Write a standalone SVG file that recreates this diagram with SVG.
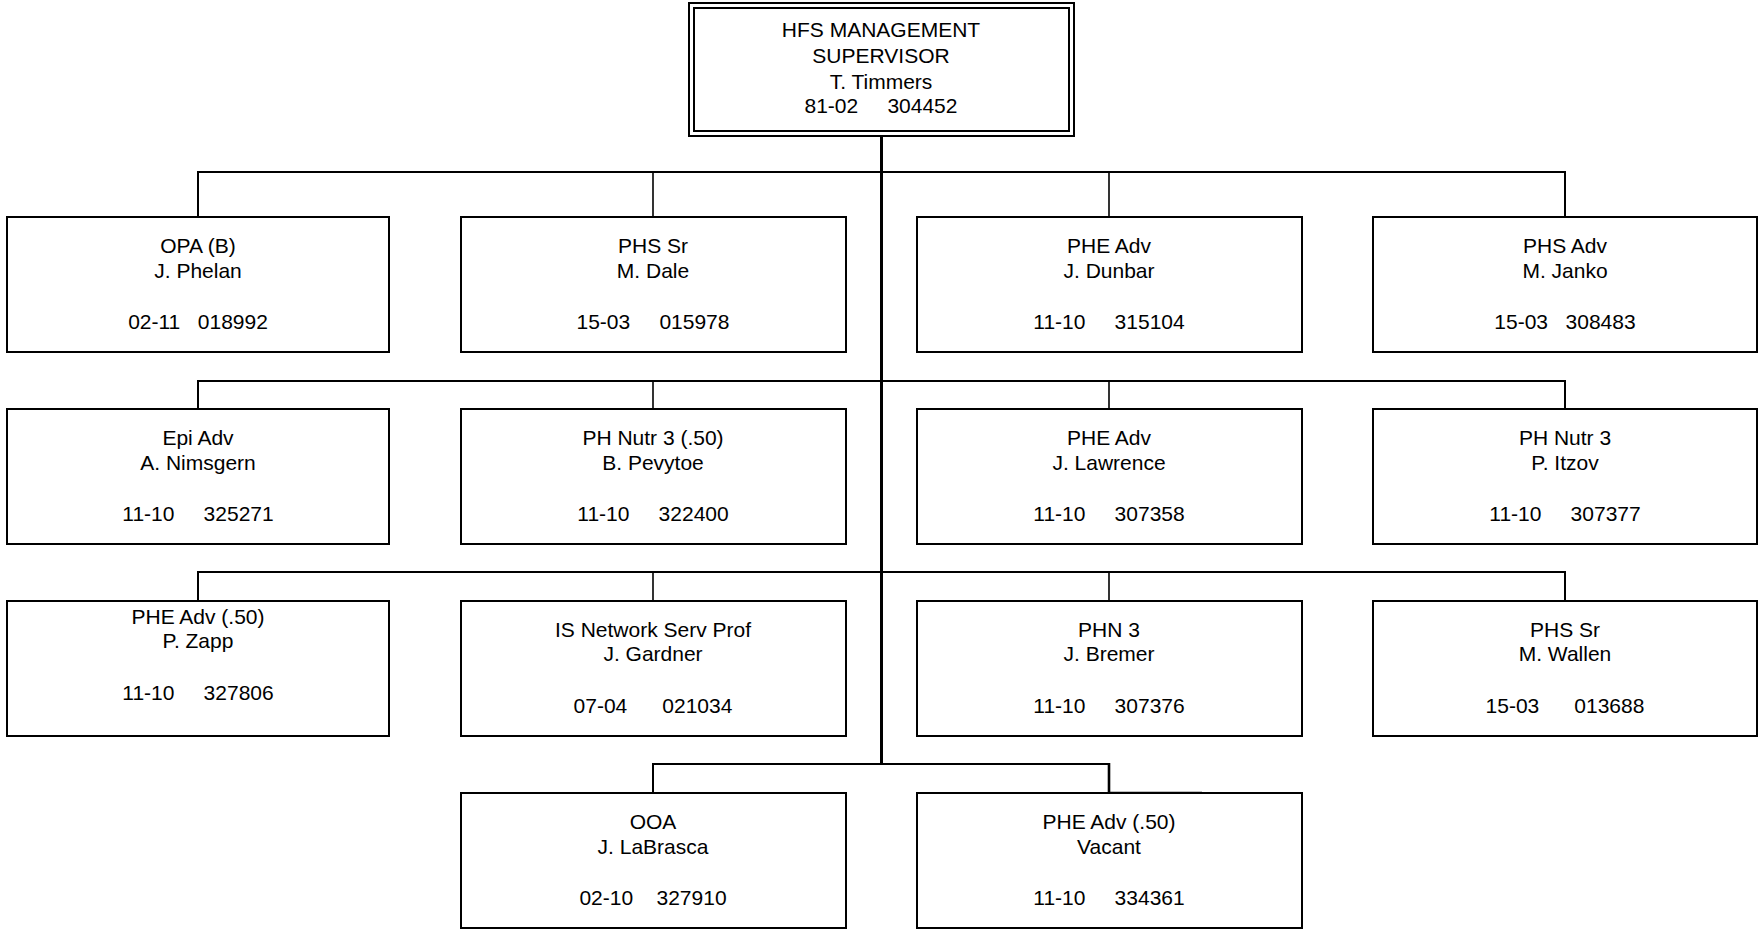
<svg xmlns="http://www.w3.org/2000/svg" width="1759" height="930" viewBox="0 0 1759 930">
<style>
.bg{fill:#fff}
.box{fill:#fff;stroke:#000;stroke-width:2}
.t{font-family:"Liberation Sans",Arial,sans-serif;font-size:21px;fill:#000;text-anchor:middle}
.bus{stroke:#000;stroke-width:2;fill:none}
.stub{stroke:#000;stroke-width:1.6;fill:none}
.trunk{stroke:#000;stroke-width:3;fill:none}
</style>
<rect class="bg" x="0" y="0" width="1759" height="930"/>
<g id="connectors">
<line class="trunk" x1="881.5" y1="136" x2="881.5" y2="765"/>
<polyline class="bus" points="198,217 198,172 1565,172 1565,217"/>
<line class="stub" x1="653" y1="172" x2="653" y2="217"/>
<line class="stub" x1="1109" y1="172" x2="1109" y2="217"/>
<polyline class="bus" points="198,409 198,381 1565,381 1565,409"/>
<line class="stub" x1="653" y1="381" x2="653" y2="409"/>
<line class="stub" x1="1109" y1="381" x2="1109" y2="409"/>
<polyline class="bus" points="198,601 198,572 1565,572 1565,601"/>
<line class="stub" x1="653" y1="572" x2="653" y2="601"/>
<line class="stub" x1="1109" y1="572" x2="1109" y2="601"/>
<polyline class="bus" points="653,793 653,764 1109,764"/>
<line class="trunk" x1="1109" y1="763" x2="1109" y2="793" style="stroke-width:2.6"/>
<line class="trunk" x1="1108" y1="793" x2="1202" y2="793" style="stroke-width:2.6"/>
</g>
<g id="n-supervisor">
<rect class="box" x="689" y="3" width="385" height="133"/>
<rect class="box" x="694" y="8" width="375" height="123"/>
<text class="t" x="881" y="37">HFS MANAGEMENT</text>
<text class="t" x="881" y="63">SUPERVISOR</text>
<text class="t" x="881" y="89">T. Timmers</text>
<text class="t" x="881" y="113" xml:space="preserve">81-02     304452</text>
</g>
<g id="n-phelan">
<rect class="box" x="7" y="217" width="382" height="135"/>
<text class="t" x="198" y="253">OPA (B)</text>
<text class="t" x="198" y="278">J. Phelan</text>
<text class="t" x="198" y="329" xml:space="preserve">02-11   018992</text>
</g>
<g id="n-dale">
<rect class="box" x="461" y="217" width="385" height="135"/>
<text class="t" x="653" y="253">PHS Sr</text>
<text class="t" x="653" y="278">M. Dale</text>
<text class="t" x="653" y="329" xml:space="preserve">15-03     015978</text>
</g>
<g id="n-dunbar">
<rect class="box" x="917" y="217" width="385" height="135"/>
<text class="t" x="1109" y="253">PHE Adv</text>
<text class="t" x="1109" y="278">J. Dunbar</text>
<text class="t" x="1109" y="329" xml:space="preserve">11-10     315104</text>
</g>
<g id="n-janko">
<rect class="box" x="1373" y="217" width="384" height="135"/>
<text class="t" x="1565" y="253">PHS Adv</text>
<text class="t" x="1565" y="278">M. Janko</text>
<text class="t" x="1565" y="329" xml:space="preserve">15-03   308483</text>
</g>
<g id="n-nimsgern">
<rect class="box" x="7" y="409" width="382" height="135"/>
<text class="t" x="198" y="445">Epi Adv</text>
<text class="t" x="198" y="470">A. Nimsgern</text>
<text class="t" x="198" y="521" xml:space="preserve">11-10     325271</text>
</g>
<g id="n-pevytoe">
<rect class="box" x="461" y="409" width="385" height="135"/>
<text class="t" x="653" y="445">PH Nutr 3 (.50)</text>
<text class="t" x="653" y="470">B. Pevytoe</text>
<text class="t" x="653" y="521" xml:space="preserve">11-10     322400</text>
</g>
<g id="n-lawrence">
<rect class="box" x="917" y="409" width="385" height="135"/>
<text class="t" x="1109" y="445">PHE Adv</text>
<text class="t" x="1109" y="470">J. Lawrence</text>
<text class="t" x="1109" y="521" xml:space="preserve">11-10     307358</text>
</g>
<g id="n-itzov">
<rect class="box" x="1373" y="409" width="384" height="135"/>
<text class="t" x="1565" y="445">PH Nutr 3</text>
<text class="t" x="1565" y="470">P. Itzov</text>
<text class="t" x="1565" y="521" xml:space="preserve">11-10     307377</text>
</g>
<g id="n-zapp">
<rect class="box" x="7" y="601" width="382" height="135"/>
<text class="t" x="198" y="624">PHE Adv (.50)</text>
<text class="t" x="198" y="648">P. Zapp</text>
<text class="t" x="198" y="700" xml:space="preserve">11-10     327806</text>
</g>
<g id="n-gardner">
<rect class="box" x="461" y="601" width="385" height="135"/>
<text class="t" x="653" y="637">IS Network Serv Prof</text>
<text class="t" x="653" y="661">J. Gardner</text>
<text class="t" x="653" y="713" xml:space="preserve">07-04      021034</text>
</g>
<g id="n-bremer">
<rect class="box" x="917" y="601" width="385" height="135"/>
<text class="t" x="1109" y="637">PHN 3</text>
<text class="t" x="1109" y="661">J. Bremer</text>
<text class="t" x="1109" y="713" xml:space="preserve">11-10     307376</text>
</g>
<g id="n-wallen">
<rect class="box" x="1373" y="601" width="384" height="135"/>
<text class="t" x="1565" y="637">PHS Sr</text>
<text class="t" x="1565" y="661">M. Wallen</text>
<text class="t" x="1565" y="713" xml:space="preserve">15-03      013688</text>
</g>
<g id="n-labrasca">
<rect class="box" x="461" y="793" width="385" height="135"/>
<text class="t" x="653" y="829">OOA</text>
<text class="t" x="653" y="854">J. LaBrasca</text>
<text class="t" x="653" y="905" xml:space="preserve">02-10    327910</text>
</g>
<g id="n-vacant">
<rect class="box" x="917" y="793" width="385" height="135"/>
<text class="t" x="1109" y="829">PHE Adv (.50)</text>
<text class="t" x="1109" y="854">Vacant</text>
<text class="t" x="1109" y="905" xml:space="preserve">11-10     334361</text>
</g>
</svg>
